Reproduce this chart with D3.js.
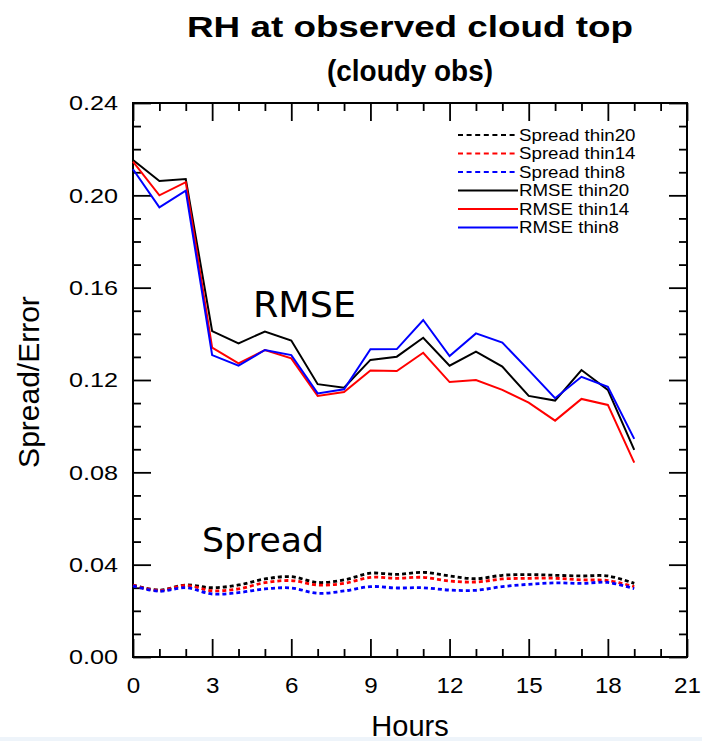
<!DOCTYPE html>
<html>
<head>
<meta charset="utf-8">
<script src="https://cdn.jsdelivr.net/npm/d3@7"></script>
<style>
  html, body { margin: 0; padding: 0; background: #fff; }
  svg { display: block; font-family: "Liberation Sans", Arial, Helvetica, sans-serif; }
</style>
</head>
<body>
<div id="chart"></div>
<script>
/* RH at observed cloud top — spread & RMSE vs forecast hour */

const hours = [0, 1, 2, 3, 4, 5, 6, 7, 8, 9, 10, 11, 12, 13, 14, 15, 16, 17, 18, 19];

const spread20 = [0.0311, 0.0290, 0.0312, 0.0300, 0.0312, 0.0338, 0.0348, 0.0323, 0.0334, 0.0363,
                  0.0358, 0.0367, 0.0351, 0.0339, 0.0354, 0.0357, 0.0354, 0.0351, 0.0351, 0.0319];
const spread14 = [0.0311, 0.0288, 0.0310, 0.0287, 0.0295, 0.0322, 0.0331, 0.0312, 0.0319, 0.0345,
                  0.0341, 0.0345, 0.0329, 0.0325, 0.0338, 0.0341, 0.0341, 0.0334, 0.0331, 0.0305];
const spread8  = [0.0308, 0.0285, 0.0300, 0.0273, 0.0279, 0.0295, 0.0299, 0.0276, 0.0286, 0.0305,
                  0.0299, 0.0300, 0.0290, 0.0289, 0.0305, 0.0315, 0.0321, 0.0319, 0.0323, 0.0296];
const rmse20 = [0.2153, 0.2062, 0.2071, 0.1412, 0.1359, 0.1410, 0.1371, 0.1182, 0.1167, 0.1287,
                0.1301, 0.1383, 0.1262, 0.1323, 0.1258, 0.1131, 0.1111, 0.1243, 0.1157, 0.0897];
const rmse14 = [0.2146, 0.2000, 0.2057, 0.1340, 0.1272, 0.1330, 0.1294, 0.1131, 0.1148, 0.1241,
                0.1239, 0.1318, 0.1191, 0.1200, 0.1157, 0.1102, 0.1024, 0.1118, 0.1092, 0.0842];
const rmse8  = [0.2113, 0.1948, 0.2020, 0.1308, 0.1262, 0.1330, 0.1308, 0.1142, 0.1160, 0.1333,
                0.1334, 0.1460, 0.1304, 0.1402, 0.1362, 0.1243, 0.1121, 0.1214, 0.1171, 0.0945];

const xMajor = [0, 3, 6, 9, 12, 15, 18, 21];
const xMinor = [1, 2, 4, 5, 7, 8, 10, 11, 13, 14, 16, 17, 19, 20];
const yMajor = [0, 0.04, 0.08, 0.12, 0.16, 0.20, 0.24];
const yMinor = [0.01, 0.02, 0.03, 0.05, 0.06, 0.07, 0.09, 0.10, 0.11, 0.13, 0.14, 0.15,
                0.17, 0.18, 0.19, 0.21, 0.22, 0.23];

const series = [
  { name: "Spread thin20", values: spread20, color: "#000", dash: true },
  { name: "Spread thin14", values: spread14, color: "#f00", dash: true },
  { name: "Spread thin8",  values: spread8,  color: "#00f", dash: true },
  { name: "RMSE thin20",   values: rmse20,   color: "#000", dash: false },
  { name: "RMSE thin14",   values: rmse14,   color: "#f00", dash: false },
  { name: "RMSE thin8",    values: rmse8,    color: "#00f", dash: false }
];

const W = 702, H = 741, M = { t: 103, r: 15, b: 84, l: 133 };
const svg = d3.select("#chart").append("svg").attr("width", W).attr("height", H);

/* slide strip at the very bottom */
svg.append("rect").attr("x", 0).attr("y", 737).attr("width", W).attr("height", 4).attr("fill", "#eef4fa");

const x = d3.scaleLinear().domain([0, 21]).range([M.l, W - M.r]);
const y = d3.scaleLinear().domain([0, 0.24]).range([H - M.b, M.t]);

/* ticks: inward on all four sides, majors labelled on bottom/left */
function ax(gen, scale, vals, size, tx, ty, labels, pad) {
  const g = svg.append("g").attr("transform", `translate(${tx},${ty})`)
    .call(gen(scale).tickValues(vals).tickSize(-size).tickPadding(pad || 0)
      .tickFormat(labels ? labels : () => ""));
  g.select(".domain").remove();
  g.selectAll("line").attr("stroke", "#000").attr("stroke-width", 1.8);
  return g;
}
const gx = ax(d3.axisBottom, x, xMajor, 18, 0, H - M.b, d => d, 20);
ax(d3.axisBottom, x, xMinor, 8, 0, H - M.b);
ax(d3.axisTop, x, xMajor, 18, 0, M.t);
ax(d3.axisTop, x, xMinor, 8, 0, M.t);
const gy = ax(d3.axisLeft, y, yMajor, 18, M.l, 0, d => d.toFixed(2), 13);
ax(d3.axisLeft, y, yMinor, 8, M.l, 0);
ax(d3.axisRight, y, yMajor, 18, W - M.r, 0);
ax(d3.axisRight, y, yMinor, 8, W - M.r, 0);

gx.selectAll("text").attr("font-size", 22).attr("fill", "#000")
  .attr("font-family", "Liberation Sans, Arial, sans-serif").attr("transform", "scale(1.1,1)");
gy.selectAll("text").attr("font-size", 21).attr("fill", "#000")
  .attr("font-family", "Liberation Sans, Arial, sans-serif")
  .attr("x", -12.5).attr("transform", "scale(1.2,1)");

/* frame */
svg.append("rect").attr("x", M.l).attr("y", M.t)
  .attr("width", W - M.r - M.l).attr("height", H - M.b - M.t)
  .attr("fill", "none").attr("stroke", "#000").attr("stroke-width", 2);

/* lines */
const rmseLine = d3.line().x((d, i) => x(hours[i])).y(d => y(d));
const spreadLine = d3.line().x((d, i) => x(hours[i])).y(d => y(d)).curve(d3.curveCatmullRom);
series.forEach(s => {
  svg.append("path").attr("d", (s.dash ? spreadLine : rmseLine)(s.values))
    .attr("fill", "none").attr("stroke", s.color)
    .attr("stroke-width", s.dash ? 2.8 : 2)
    .attr("stroke-dasharray", s.dash ? "4 3" : null);
});

/* legend */
const lg = svg.append("g");
series.forEach((s, i) => {
  const ly = 135 + i * 18.5;
  lg.append("line").attr("x1", 458).attr("x2", 518).attr("y1", ly).attr("y2", ly)
    .attr("stroke", s.color).attr("stroke-width", 2)
    .attr("stroke-dasharray", s.dash ? "5 3.6" : null);
  lg.append("text").attr("transform", `translate(519,${ly + 5.8}) scale(1.17,1)`)
    .attr("font-size", 16).attr("fill", "#000").text(s.name);
});

/* hand annotations */
svg.append("text").attr("x", 253).attr("y", 317).attr("font-size", 35)
  .attr("font-family", "DejaVu Sans, sans-serif").attr("textLength", 103)
  .attr("lengthAdjust", "spacingAndGlyphs").text("RMSE");
svg.append("text").attr("x", 202).attr("y", 552).attr("font-size", 33)
  .attr("font-family", "DejaVu Sans, sans-serif").attr("textLength", 122)
  .attr("lengthAdjust", "spacingAndGlyphs").text("Spread");

/* titles */
svg.append("text").attr("x", 410).attr("y", 37).attr("text-anchor", "middle")
  .attr("font-size", 30).attr("font-weight", "bold").attr("textLength", 446)
  .attr("lengthAdjust", "spacingAndGlyphs").text("RH at observed cloud top");
svg.append("text").attr("x", 410).attr("y", 81).attr("text-anchor", "middle")
  .attr("font-size", 30).attr("font-weight", "bold").attr("textLength", 166)
  .attr("lengthAdjust", "spacingAndGlyphs").text("(cloudy obs)");
svg.append("text").attr("transform", "translate(39,382) rotate(-90)")
  .attr("text-anchor", "middle").attr("font-size", 30).text("Spread/Error");
svg.append("text").attr("x", 410).attr("y", 736).attr("text-anchor", "middle")
  .attr("font-size", 29).text("Hours");
</script>
</body>
</html>
